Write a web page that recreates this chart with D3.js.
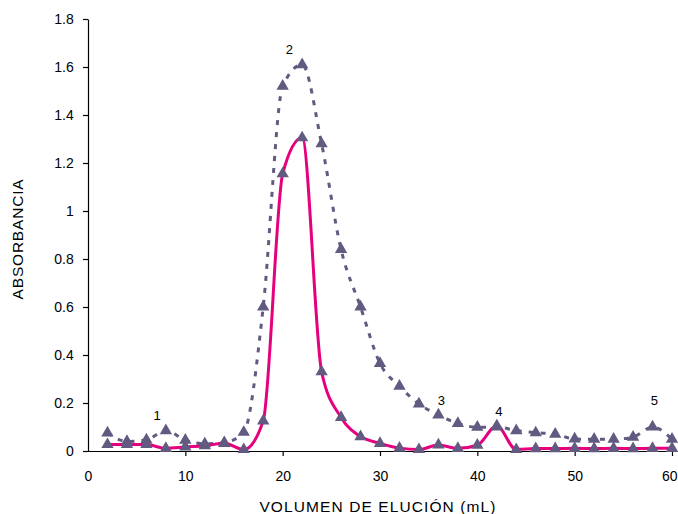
<!DOCTYPE html>
<html><head><meta charset="utf-8">
<script src="https://cdn.jsdelivr.net/npm/d3@7"></script>
<style>
body{margin:0;background:#fff;}
svg{display:block;font-family:"Liberation Sans",Arial,sans-serif;}
</style></head>
<body><svg id="c" width="678" height="514"></svg>
<script>
const volumes = [2,4,6,8,10,12,14,16,18,20,22,24,26,28,30,32,34,36,38,40,42,44,46,48,50,52,54,56,58,60];
const dashedSeries = [0.075,0.04,0.046,0.085,0.045,0.03,0.035,0.078,0.60,1.52,1.61,1.28,0.84,0.60,0.365,0.27,0.196,0.15,0.115,0.099,0.10,0.085,0.076,0.07,0.05,0.049,0.049,0.058,0.10,0.049];
const solidSeries  = [0.027,0.027,0.027,0.011,0.017,0.022,0.032,0.006,0.125,1.155,1.305,0.33,0.14,0.06,0.032,0.012,0.006,0.025,0.011,0.024,0.105,0.006,0.01,0.01,0.011,0.01,0.011,0.01,0.011,0.011];
const peakLabels = [{t:"1",x:7.1,y:0.13},{t:"2",x:20.7,y:1.655},{t:"3",x:36.3,y:0.19},{t:"4",x:42.2,y:0.145},{t:"5",x:58.2,y:0.19}];
const xTicks = [0,10,20,30,40,50,60];
const yTicks = [0,0.2,0.4,0.6,0.8,1,1.2,1.4,1.6,1.8];

const svg = d3.select("#c");
const L=88,R=672,T=19,B=451;
const x = d3.scaleLinear().domain([0,60]).range([L,R]);
const y = d3.scaleLinear().domain([0,1.8]).range([B,T]);

const purple="#625a80", pink="#e6007e";

// axes
const xa = svg.append("g").attr("transform",`translate(0,${B})`)
  .call(d3.axisBottom(x).tickValues(xTicks).tickSize(5).tickSizeOuter(0).tickFormat(d3.format("d")));
xa.select(".domain").attr("d",`M${L},0.5H678`);
xa.selectAll(".tick").filter(d=>d===0).select("line").remove();
xa.selectAll("text").attr("font-size",14).attr("fill","#000").attr("dy","1.55em").attr("font-family","Liberation Sans, Arial, sans-serif");
xa.selectAll(".tick").filter(d=>d===60).select("text").attr("text-anchor","end").attr("x",677-R);
const ya = svg.append("g").attr("transform",`translate(${L},0)`)
  .call(d3.axisLeft(y).tickValues(yTicks).tickSize(5).tickSizeOuter(0).tickFormat(d=>String(+d.toFixed(1))));
ya.selectAll("text").attr("font-size",14).attr("fill","#000").attr("dx","-0.45em").attr("font-family","Liberation Sans, Arial, sans-serif");
svg.selectAll(".domain, .tick line").attr("stroke","#000").attr("stroke-width",1.2);

// lines
const dashLine = d3.line().x((d,i)=>x(volumes[i])).y(d=>y(d)).curve(d3.curveMonotoneX);
const solidLine = d3.line().x((d,i)=>x(volumes[i])).y(d=>y(d)).curve(d3.curveMonotoneX);
svg.append("path").attr("d",dashLine(dashedSeries)).attr("fill","none").attr("stroke",purple)
  .attr("stroke-width",3).attr("stroke-dasharray","5,7");
svg.append("path").attr("d",solidLine(solidSeries)).attr("fill","none").attr("stroke",pink).attr("stroke-width",3);

// markers
const tri = d3.symbol().type(d3.symbolTriangle).size(66);
[dashedSeries, solidSeries].forEach(vals=>{
  svg.append("g").selectAll("path").data(vals).join("path")
    .attr("d",tri).attr("fill",purple)
    .attr("transform",(d,i)=>`translate(${x(volumes[i])},${y(d)})`);
});

// peak labels
svg.append("g").selectAll("text").data(peakLabels).join("text")
  .attr("x",d=>x(d.x)).attr("y",d=>y(d.y)).attr("text-anchor","middle")
  .attr("font-size",13).attr("fill","#000").text(d=>d.t);

// titles
svg.append("text").attr("x",(L+R)/2-2).attr("y",512).attr("text-anchor","middle")
  .attr("font-size",15.5).attr("letter-spacing","1.1px").attr("fill","#000").text("VOLUMEN DE ELUCIÓN (mL)");
svg.append("text").attr("transform",`translate(23,${(T+B)/2+4}) rotate(-90)`).attr("text-anchor","middle")
  .attr("font-size",15.5).attr("letter-spacing","0.8px").attr("fill","#000").text("ABSORBANCIA");
</script></body></html>
